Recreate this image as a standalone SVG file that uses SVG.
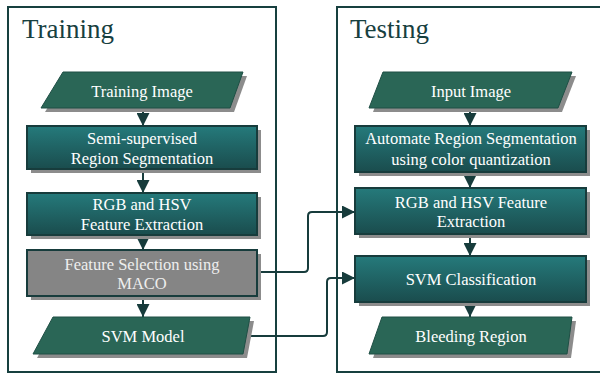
<svg xmlns="http://www.w3.org/2000/svg" width="600" height="377" viewBox="0 0 600 377">
  <style>
    .panel { fill: #ffffff; stroke: #17403f; stroke-width: 2; }
    .title { font-family: "Liberation Serif", "Times New Roman", serif; font-size: 27px; fill: #17403f; }
    .box { fill: url(#teal); stroke: #173c3c; stroke-width: 2; }
    .gray { fill: #858585; stroke: #173c3c; stroke-width: 2; }
    .io { fill: #2a6656; stroke: #1f4f45; stroke-width: 1; }
    .shadow { fill: #8c8c8c; }
    .lbl { font-family: "Liberation Serif", "Times New Roman", serif; font-size: 16.5px; fill: #ffffff; text-anchor: middle; }
    .glbl { font-family: "Liberation Serif", "Times New Roman", serif; font-size: 16.5px; fill: #eeeeee; text-anchor: middle; }
    .wire { fill: none; stroke: #173c3c; stroke-width: 2; }
  </style>
  <defs>
    <linearGradient id="teal" x1="0" y1="0" x2="0" y2="1">
      <stop offset="0" stop-color="#257a7b"/>
      <stop offset="1" stop-color="#1a4c4d"/>
    </linearGradient>
    <marker id="arrow" viewBox="0 0 10 10" refX="10" refY="5" markerWidth="13" markerHeight="13" markerUnits="userSpaceOnUse" orient="auto">
      <path d="M0,0 L10,5 L0,10 Z" fill="#173c3c"/>
    </marker>
  </defs>

  <!-- panels -->
  <g id="panel-training">
    <rect class="panel" x="8" y="7" width="268" height="365"/>
    <text class="title" x="22" y="38">Training</text>
  </g>
  <g id="panel-testing">
    <rect class="panel" x="337" y="7" width="270" height="365"/>
    <text class="title" x="350" y="38">Testing</text>
  </g>

  <!-- connectors -->
  <g id="connectors">
    <line class="wire" x1="143" y1="108" x2="143" y2="126" marker-end="url(#arrow)"/>
    <line class="wire" x1="143" y1="169" x2="143" y2="193" marker-end="url(#arrow)"/>
    <line class="wire" x1="143" y1="235" x2="143" y2="250" marker-end="url(#arrow)"/>
    <line class="wire" x1="143" y1="296" x2="143" y2="317" marker-end="url(#arrow)"/>
    <line class="wire" x1="470" y1="108" x2="470" y2="126" marker-end="url(#arrow)"/>
    <line class="wire" x1="470" y1="172" x2="470" y2="188" marker-end="url(#arrow)"/>
    <line class="wire" x1="470" y1="234" x2="470" y2="256" marker-end="url(#arrow)"/>
    <line class="wire" x1="470" y1="302" x2="470" y2="317" marker-end="url(#arrow)"/>
    <path class="wire" d="M257,272 H304 Q308,272 308,268 V216 Q308,212 312,212 H355" marker-end="url(#arrow)"/>
    <path class="wire" d="M246,336 H323 Q327,336 327,332 V282 Q327,278 331,278 H355" marker-end="url(#arrow)"/>
  </g>

  <!-- training nodes -->
  <g id="training-image">
    <polygon class="shadow" points="67,76 247,76 234,112 45,112"/>
    <polygon class="io" points="63,72 243,72 230,108 41,108"/>
    <text class="lbl" x="142" y="97">Training Image</text>
  </g>
  <g id="semi-supervised">
    <rect class="shadow" x="31" y="130" width="230" height="43"/>
    <rect class="box" x="27" y="126" width="230" height="43"/>
    <text class="lbl" x="142" y="144">Semi-supervised</text>
    <text class="lbl" x="142" y="164">Region Segmentation</text>
  </g>
  <g id="rgb-hsv-train">
    <rect class="shadow" x="31" y="197" width="230" height="42"/>
    <rect class="box" x="27" y="193" width="230" height="42"/>
    <text class="lbl" x="142" y="210">RGB and HSV</text>
    <text class="lbl" x="142" y="230">Feature Extraction</text>
  </g>
  <g id="feature-selection">
    <rect class="shadow" x="31" y="254" width="230" height="46"/>
    <rect class="gray" x="27" y="250" width="230" height="46"/>
    <text class="glbl" x="142" y="270">Feature Selection using</text>
    <text class="glbl" x="142" y="289">MACO</text>
  </g>
  <g id="svm-model">
    <polygon class="shadow" points="57,321 254,321 247,358 37,358"/>
    <polygon class="io" points="53,317 250,317 243,354 33,354"/>
    <text class="lbl" x="143" y="342">SVM Model</text>
  </g>

  <!-- testing nodes -->
  <g id="input-image">
    <polygon class="shadow" points="387,76 576,76 562,112 373,112"/>
    <polygon class="io" points="383,72 572,72 558,108 369,108"/>
    <text class="lbl" x="471" y="97">Input Image</text>
  </g>
  <g id="automate-segmentation">
    <rect class="shadow" x="359" y="130" width="231" height="46"/>
    <rect class="box" x="355" y="126" width="231" height="46"/>
    <text class="lbl" x="471" y="144">Automate Region Segmentation</text>
    <text class="lbl" x="471" y="165">using color quantization</text>
  </g>
  <g id="rgb-hsv-test">
    <rect class="shadow" x="359" y="192" width="231" height="46"/>
    <rect class="box" x="355" y="188" width="231" height="46"/>
    <text class="lbl" x="471" y="208">RGB and HSV Feature</text>
    <text class="lbl" x="471" y="227">Extraction</text>
  </g>
  <g id="svm-classification">
    <rect class="shadow" x="359" y="260" width="231" height="46"/>
    <rect class="box" x="355" y="256" width="231" height="46"/>
    <text class="lbl" x="471" y="285">SVM Classification</text>
  </g>
  <g id="bleeding-region">
    <polygon class="shadow" points="386,321 576,321 571,358 373,358"/>
    <polygon class="io" points="382,317 572,317 567,354 369,354"/>
    <text class="lbl" x="471" y="342">Bleeding Region</text>
  </g>
</svg>
